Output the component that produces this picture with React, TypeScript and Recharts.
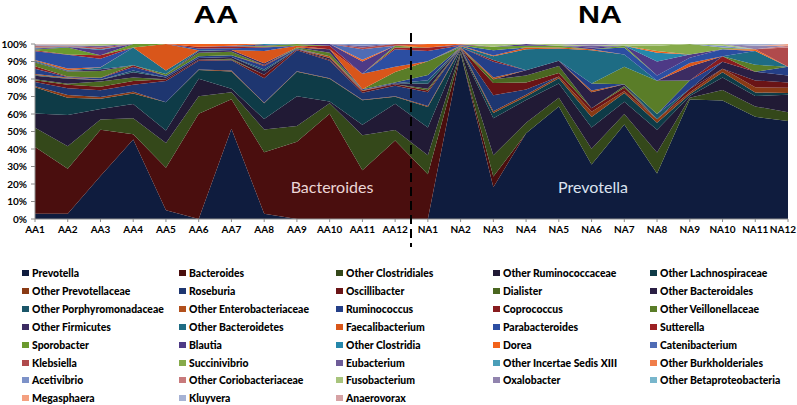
import { AreaChart, Area, XAxis, YAxis } from 'recharts';

const samples = [
  'AA1', 'AA2', 'AA3', 'AA4', 'AA5', 'AA6', 'AA7', 'AA8', 'AA9', 'AA10', 'AA11', 'AA12',
  'NA1', 'NA2', 'NA3', 'NA4', 'NA5', 'NA6', 'NA7', 'NA8', 'NA9', 'NA10', 'NA11', 'NA12',
];

const yTicks = [0, 0.1, 0.2, 0.3, 0.4, 0.5, 0.6, 0.7, 0.8, 0.9, 1];

// relative abundance (%) per sample, same order as samples
const prevotella = [3, 3, 25, 45, 5, 0, 52, 3, 0, 0, 0, 0, 0, 94, 18, 49, 64, 31, 54, 26, 69, 67, 59, 56];
const bacteroides = [38, 26, 27, 3, 24, 60, 17, 35, 44, 60, 28, 45, 26, 0, 6, 0, 0, 0, 0, 0, 0, 0, 0, 0];
const otherClostridiales = [11, 13, 6, 9, 14, 10, 4, 13, 9, 6, 20, 6, 11, 1, 12, 6, 5, 9, 6, 12, 1, 6, 6, 5];
const otherRuminococcaceae = [8, 18, 6, 8, 7, 10, 2, 6, 17, 1, 6, 15, 16, 1, 21, 13, 8, 12, 7, 13, 1, 7, 6, 10];
const otherLachnospiraceae = [15, 10, 6, 6, 16, 5, 10, 9, 14, 13, 14, 4, 12, 0.5, 3, 2, 3, 6, 5, 4, 1, 3, 2, 1];
const otherPrevotellaceae = [0.5, 1.5, 1, 1, 0, 0.3, 0.5, 0.3, 0.3, 0.3, 0.3, 0.3, 0.5, 0.5, 1, 1, 1, 3, 1, 2, 1, 2, 3, 3];
const roseburia = [2.5, 4, 4, 4, 12, 5, 6, 14, 12, 10, 4, 6, 8, 0, 9, 3, 0, 0, 0, 0, 0, 0, 0, 0];
const oscillibacter = [1, 2, 2, 2, 1, 0.5, 0.3, 2, 0.5, 0.5, 1, 1, 1, 0, 7, 4, 2, 2, 2, 0, 2, 0, 4, 3];
const dialister = [0.5, 0.5, 3, 2, 0, 0, 0.5, 0, 0, 0, 0, 0, 1, 0, 2, 4, 4, 0, 1, 0, 0, 0, 0, 0];
const otherBacteroidales = [2, 3, 1, 3, 1, 1, 1, 2, 0, 1, 0, 0.5, 3, 0, 0, 3, 3, 9, 1, 0, 0, 4, 5, 4];
const otherPorphyromonadaceae = [0.5, 0.3, 0, 1, 0, 0, 0, 1, 0, 0, 0, 0, 2, 0, 0, 0, 0, 0, 0, 3, 0, 0, 0, 0];
const otherEnterobacteriaceae = [0.5, 0.3, 0.1, 0, 0, 0, 0, 0, 0, 1, 0.5, 0, 0, 0.5, 1, 0, 0, 1, 0, 0, 0, 0, 0, 0];
const ruminococcus = [3, 0.3, 1, 2, 1, 1, 1, 2, 0.5, 0, 0.5, 0.5, 3, 0, 9, 0, 0, 4, 0, 0, 5, 0, 0, 5];
const coprococcus = [1.5, 0.3, 0.1, 1, 0, 0, 0, 0.5, 0, 0, 0, 0, 0, 0, 1, 0, 0, 0, 0, 0, 0, 3, 0, 0];
const otherVeillonellaceae = [2, 3, 4, 0, 1, 2, 2, 0, 0.5, 2, 0, 6, 8, 0, 0, 0, 0, 0, 10, 19, 0, 0, 4, 0];
const otherFirmicutes = [0.5, 0.3, 1, 0, 0, 1, 1, 1, 0, 2, 0, 0, 0, 0, 0, 0, 0, 0, 0, 0, 8, 0, 0, 0];
const otherBacteroidetes = [0.5, 0.3, 1, 10, 2, 0.5, 0, 0, 0, 0, 0, 0, 0, 0.5, 2, 12, 7, 19, 7, 0, 0, 0, 8, 0];
const faecalibacterium = [0.5, 1, 0.1, 0, 15, 0, 0, 7, 1, 0, 9, 3, 0, 0.5, 0.5, 1, 0.5, 0.5, 0, 0, 2, 0, 0, 0];
const parabacteroides = [5, 8, 5, 0, 0, 1, 1, 2, 0, 0, 0, 10, 6, 0, 3, 0, 0, 0, 4, 3, 3, 4, 0, 0];
const sutterella = [0.5, 0.2, 2, 0, 0, 1, 1, 0.5, 0, 2, 0, 1, 2, 0, 0, 0, 0, 0, 0, 0, 0, 0, 0, 0];
const sporobacter = [0.5, 4, 0.1, 2, 0, 0, 0, 0.5, 1, 0, 0, 1, 0, 0, 2, 1, 1, 0, 1, 0, 0, 0, 0, 0];
const blautia = [0.5, 0.2, 3, 0, 0, 0, 0.5, 0.5, 0, 1, 7, 0, 0, 0.5, 0, 1, 0, 1, 0, 8, 2, 0, 0, 0];
const otherClostridia = [0.5, 0.2, 0.5, 0, 0, 0, 0, 0.5, 0, 0, 0, 0, 0, 0, 0, 0, 0, 0, 0, 5, 0, 0, 0, 0];
const dorea = [0.3, 0.2, 0, 0, 0, 1.5, 1, 0, 0, 0, 1, 0, 2, 0.3, 0, 0, 0, 0, 0, 1, 0, 0, 1, 0];
const catenibacterium = [0.3, 0.1, 0, 0, 0, 0, 0, 0, 0, 0, 6, 0, 0, 0, 0, 0, 0, 0, 0, 0, 0, 0, 0, 0];
const klebsiella = [0.3, 0.1, 1, 0, 0, 0, 0, 0, 0, 0, 1, 1, 0, 0, 0, 0, 0, 0, 0, 0, 0, 0, 0, 11];
const succinivibrio = [0.1, 0.1, 0, 0, 0, 0, 0, 0, 0, 0, 0, 0, 0, 0, 0, 0, 0, 0, 0, 3, 6, 1, 0, 0];
const eubacterium = [0.1, 0.1, 1, 0, 0, 0, 0, 0, 0, 0, 1, 0, 0, 0, 0, 0, 0, 1, 0, 0, 0, 0, 0, 0];
const otherIncertaeSedis = [0.1, 0.1, 0, 0, 0, 0, 0, 0, 0, 0, 0, 0, 0, 0, 0, 0, 0, 0, 0, 0, 0, 0, 0, 0];
const otherBurkholderiales = [0.1, 0.1, 0, 0, 0, 0, 0, 0, 0, 0, 0, 0, 0, 0, 0, 0, 0, 0, 0, 0, 0, 0, 0, 0];
const acetivibrio = [0.1, 0.1, 0, 0, 0, 0, 0, 0, 0, 0, 1, 0, 0, 0, 0, 0, 0, 0, 0, 0, 0, 1, 0, 0];
const otherCoriobacteriaceae = [0.1, 0.1, 0, 0, 0, 0, 0, 0, 0, 0, 0, 0, 0, 0, 0, 0, 0, 0, 0, 0, 0, 0, 0, 1];
const fusobacterium = [0.1, 0.1, 1, 0, 0, 0, 0, 0, 0, 0, 0, 0, 0, 0, 1.5, 0, 1, 0, 1, 1, 0, 1, 0, 0];
const oxalobacter = [0.1, 0.1, 0, 0, 0, 0, 0, 0, 0, 0, 0, 0, 0, 0, 0, 0, 0, 1, 0, 0, 0, 0, 2, 0];
const otherBetaproteobacteria = [0.1, 0.1, 0, 0, 0, 0, 0, 0, 0, 0, 0, 0, 0, 0, 0, 0, 0, 0, 0, 0, 0, 0, 0, 0];
const megasphaera = [0.1, 0.1, 0, 0, 0, 0, 0, 0, 0, 0, 0, 0, 0, 0, 0, 0, 0, 0, 0, 0, 0, 0, 0, 1];
const kluyvera = [0.1, 0.1, 0, 0, 0, 0, 0, 0, 0, 0, 0, 0, 0, 0, 0, 0, 0, 0, 0, 0, 0, 0, 1, 0];
const anaerovorax = [0.1, 0.1, 0, 0, 0, 0, 0, 0, 0, 0, 0, 0, 0, 0, 0, 0, 0, 0, 0, 0, 0, 0, 0, 0];

// stacking order, bottom first (also legend order, row by row)
const taxa: [string, number[], string][] = [
  ['Prevotella', prevotella, '#0f1c3e'],
  ['Bacteroides', bacteroides, '#4a0e0e'],
  ['Other Clostridiales', otherClostridiales, '#34481a'],
  ['Other Ruminococcaceae', otherRuminococcaceae, '#211a35'],
  ['Other Lachnospiraceae', otherLachnospiraceae, '#0e3b47'],
  ['Other Prevotellaceae', otherPrevotellaceae, '#8a3a14'],
  ['Roseburia', roseburia, '#1e3670'],
  ['Oscillibacter', oscillibacter, '#6a1416'],
  ['Dialister', dialister, '#4a6620'],
  ['Other Bacteroidales', otherBacteroidales, '#2a1f44'],
  ['Other Porphyromonadaceae', otherPorphyromonadaceae, '#1b5669'],
  ['Other Enterobacteriaceae', otherEnterobacteriaceae, '#b2501c'],
  ['Ruminococcus', ruminococcus, '#243f88'],
  ['Coprococcus', coprococcus, '#881c1f'],
  ['Other Veillonellaceae', otherVeillonellaceae, '#5a7d28'],
  ['Other Firmicutes', otherFirmicutes, '#3c2c62'],
  ['Other Bacteroidetes', otherBacteroidetes, '#1e6c84'],
  ['Faecalibacterium', faecalibacterium, '#d9561a'],
  ['Parabacteroides', parabacteroides, '#2c4ea2'],
  ['Sutterella', sutterella, '#9c2023'],
  ['Sporobacter', sporobacter, '#6b9a2e'],
  ['Blautia', blautia, '#4e3a86'],
  ['Other Clostridia', otherClostridia, '#2587aa'],
  ['Dorea', dorea, '#f2621a'],
  ['Catenibacterium', catenibacterium, '#4f6cb5'],
  ['Klebsiella', klebsiella, '#b04a4c'],
  ['Succinivibrio', succinivibrio, '#86aa4a'],
  ['Eubacterium', eubacterium, '#6e5c98'],
  ['Other Incertae Sedis XIII', otherIncertaeSedis, '#4a9eb8'],
  ['Other Burkholderiales', otherBurkholderiales, '#f07e4a'],
  ['Acetivibrio', acetivibrio, '#7d92c8'],
  ['Other Coriobacteriaceae', otherCoriobacteriaceae, '#c87a7c'],
  ['Fusobacterium', fusobacterium, '#a8c47c'],
  ['Oxalobacter', oxalobacter, '#9184ae'],
  ['Other Betaproteobacteria', otherBetaproteobacteria, '#78b6cc'],
  ['Megasphaera', megasphaera, '#f4a080'],
  ['Kluyvera', kluyvera, '#a6b2d4'],
  ['Anaerovorax', anaerovorax, '#d6a2a4'],
];

const data = samples.map((sample, i) => {
  const row: Record<string, string | number> = { sample };
  taxa.forEach(([name, values]) => {
    row[name] = values[i];
  });
  return row;
});

const font = 'Lato, "DejaVu Sans", sans-serif';
const legendCols = [22, 179, 336, 493, 650];

// keeps the last label inside the picture
const SampleTick = (props: any) => {
  const { x, y, payload } = props;
  const last = payload.value === samples[samples.length - 1];
  return (
    <text
      x={last ? 796 : x}
      y={y + 9}
      textAnchor={last ? 'end' : 'middle'}
      fill="#000"
      style={{ fontSize: 10, fontWeight: 700, fontFamily: font }}
    >
      {payload.value}
    </text>
  );
};

export default function App() {
  return (
    <div style={{ position: 'absolute', left: 0, top: 0, width: 797, height: 405, background: '#fff', overflow: 'hidden', fontFamily: font }}>
      <AreaChart
        width={797}
        height={250}
        data={data}
        stackOffset="expand"
        margin={{ top: 44, right: 9, left: 0, bottom: 6 }}
      >
        <XAxis
          dataKey="sample"
          interval={0}
          height={25}
          tickSize={3}
          tickMargin={2}
          stroke="#8c8c8c"
          tick={<SampleTick />}
        />
        <YAxis
          width={35}
          domain={[0, 1]}
          ticks={yTicks}
          tickFormatter={(v: number) => `${Math.round(v * 100)}%`}
          tickSize={4}
          tickMargin={4}
          stroke="#8c8c8c"
          tick={{ fill: '#000', fontSize: 10, fontWeight: 700, fontFamily: font }}
        />
        {taxa.map(([name, , color]) => (
          <Area
            key={name}
            type="linear"
            dataKey={name}
            stackId="1"
            stroke="none"
            fill={color}
            fillOpacity={1}
            isAnimationActive={false}
          />
        ))}
      </AreaChart>

      <svg width={797} height={250} style={{ position: 'absolute', left: 0, top: 0, pointerEvents: 'none' }}>
        <text x={216} y={23} textAnchor="middle" textLength={45} lengthAdjust="spacingAndGlyphs"
          style={{ fontFamily: '"Liberation Sans", Arial, sans-serif', fontWeight: 700, fontSize: 23 }}>AA</text>
        <text x={600} y={23} textAnchor="middle" textLength={44} lengthAdjust="spacingAndGlyphs"
          style={{ fontFamily: '"Liberation Sans", Arial, sans-serif', fontWeight: 700, fontSize: 23 }}>NA</text>
        <line x1={411} y1={33} x2={411} y2={247} stroke="#000" strokeWidth={2} strokeDasharray="9 5" />
        <text x={332} y={193} textAnchor="middle" fill="#ecd6d6" style={{ fontFamily: font, fontSize: 16 }}>Bacteroides</text>
        <text x={593} y={193} textAnchor="middle" fill="#dce3f0" style={{ fontFamily: font, fontSize: 16 }}>Prevotella</text>
      </svg>

      {taxa.map(([name, , color], i) => (
        <div
          key={name}
          style={{
            position: 'absolute',
            left: legendCols[i % 5],
            top: 267 + Math.floor(i / 5) * 17.9,
            height: 12,
            display: 'flex',
            alignItems: 'center',
            whiteSpace: 'nowrap',
            fontSize: 10.4,
            fontWeight: 900,
            color: '#000',
          }}
        >
          <span style={{ display: 'inline-block', width: 7, height: 6, background: color, marginRight: 3 }} />
          {name}
        </div>
      ))}
    </div>
  );
}
